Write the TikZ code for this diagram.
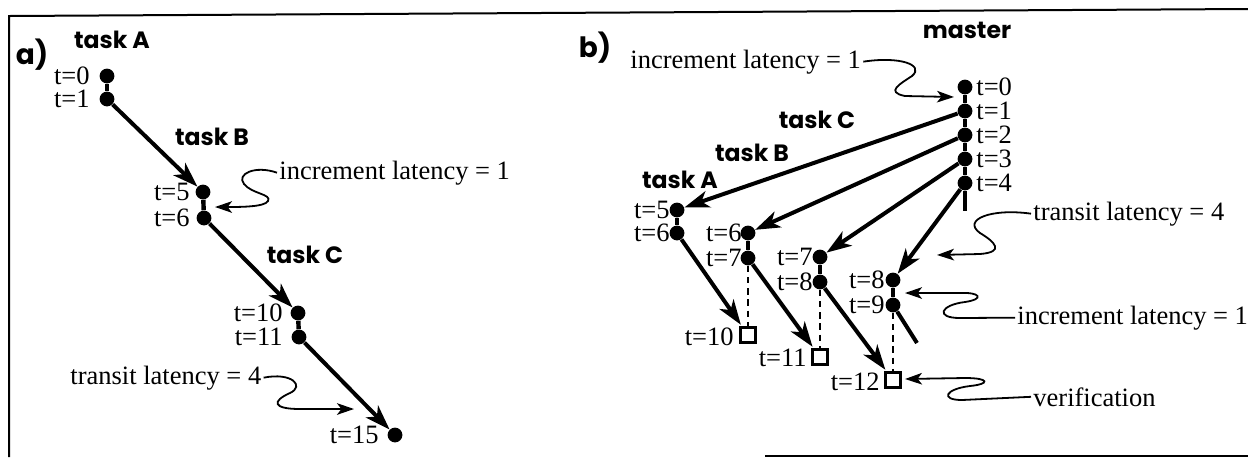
\documentclass[tikz,border=0pt]{standalone}
\usepackage{fontspec}
\setmainfont{Liberation Serif}
\newfontfamily\agfont{Poppins}
\usetikzlibrary{arrows.meta}
\tikzset{
  dot/.style={circle, fill=black, inner sep=0pt, minimum size=7.4pt},
  vsq/.style={rectangle, draw=black, line width=1.4pt, fill=white, inner sep=0pt, minimum size=7.2pt},
  tl/.style={inner sep=0pt, font=\fontsize{13.25pt}{15pt}\selectfont},
  hd/.style={inner sep=0pt, font=\agfont\bfseries\fontsize{11.8pt}{13pt}\selectfont},
  pl/.style={inner sep=0pt, font=\agfont\bfseries\fontsize{14pt}{16pt}\selectfont},
  msg/.style={line width=2pt, -{Stealth[length=12.5pt,width=8.5pt,inset=3.5pt]}},
  seg/.style={line width=2.2pt},
  wave/.style={line width=0.9pt, -{Stealth[length=8.5pt,width=5.8pt,inset=2.2pt]}},
  ver/.style={line width=1.2pt, dash pattern=on 3.2pt off 2.4pt},
  frame/.style={line width=1pt},
}
\begin{document}
\begin{tikzpicture}[x=0.5pt, y=-0.5pt]
\useasboundingbox (0,0) rectangle (1248,457);
% frame
\draw[frame] (9,457) -- (9,16) -- (1248,9);
\draw[frame] (765,456) -- (1248,456);

% ---------------- panel a ----------------
\node[pl] (pa) at (32,55) {a)};
\node[hd] (ha) at (112,40) {task A};
\node[hd] (hb) at (212,137) {task B};
\node[hd] (hc) at (305,255) {task C};

\node[dot] (a0) at (107,76) {};
\node[dot] (a1) at (107,99) {};
\node[dot] (a5) at (203,192) {};
\node[dot] (a6) at (204,218) {};
\node[dot] (a10) at (298,313) {};
\node[dot] (a11) at (299,337) {};
\node[dot] (a15) at (395,435) {};

\draw[seg] (a0) -- (a1);
\draw[seg] (a5) -- (a6);
\draw[seg] (a10) -- (a11);
\draw[msg] (a1) -- (a5);
\draw[msg] (a6) -- (a10);
\draw[msg] (a11) -- (a15);

\node[tl, anchor=east] (la0) at (90,76) {t=0};
\node[tl, anchor=east] (la1) at (90,99) {t=1};
\node[tl, anchor=east] (la5) at (190,192) {t=5};
\node[tl, anchor=east] (la6) at (190,218) {t=6};
\node[tl, anchor=east] (la10) at (283,313) {t=10};
\node[tl, anchor=east] (la11) at (283,337) {t=11};
\node[tl, anchor=east] (la15) at (379,435) {t=15};

\node[tl, anchor=base west] (wa1) at (279,179) {increment latency = 1};
\coordinate (wa1t) at (215,207);
\draw[wave] ([xshift=-1pt]wa1.west) .. controls (255,165) and (236,174) .. (244,184)
  .. controls (252,194) and (272,194) .. (268,201)
  .. controls (265,207) and (240,207) .. (wa1t);

\node[tl, anchor=base west] (wa2) at (70,384) {transit latency = 4};
\coordinate (wa2t) at (354,409);
\draw[wave] ([xshift=1pt]wa2.east) .. controls (292,372) and (305,386) .. (290,393)
  .. controls (272,401) and (272,409) .. (300,409) -- (wa2t);

% ---------------- panel b ----------------
\node[pl] (pb) at (595,48) {b)};
\node[hd] (hm) at (967,30) {master};
\node[hd] (hbc) at (817,120) {task C};
\node[hd] (hbb) at (752,153) {task B};
\node[hd] (hba) at (680,180) {task A};

\node[dot] (m0) at (965,87) {};
\node[dot] (m1) at (965,111) {};
\node[dot] (m2) at (965,135) {};
\node[dot] (m3) at (965,159) {};
\node[dot] (m4) at (965,183) {};
\coordinate (mend) at (965,211);
\draw[seg] (m0) -- (m1);
\draw[seg] (m1) -- (m2);
\draw[seg] (m2) -- (m3);
\draw[seg] (m3) -- (m4);
\draw[seg] (m4) -- (mend);

\node[tl, anchor=west] (lm0) at (976,87) {t=0};
\node[tl, anchor=west] (lm1) at (976,111) {t=1};
\node[tl, anchor=west] (lm2) at (976,135) {t=2};
\node[tl, anchor=west] (lm3) at (976,159) {t=3};
\node[tl, anchor=west] (lm4) at (976,183) {t=4};

\node[dot] (ba5) at (677,210) {};
\node[dot] (ba6) at (677,233) {};
\node[dot] (bb6) at (748,233) {};
\node[dot] (bb7) at (748,258) {};
\node[dot] (bc7) at (820,257) {};
\node[dot] (bc8) at (820,282) {};
\node[dot] (bd8) at (893,280) {};
\node[dot] (bd9) at (893,305) {};
\node[vsq] (s10) at (748,335) {};
\node[vsq] (s11) at (820,357) {};
\node[vsq] (s12) at (893,380) {};
\coordinate (dend) at (917,343);

\draw[seg] (ba5) -- (ba6);
\draw[seg] (bb6) -- (bb7);
\draw[seg] (bc7) -- (bc8);
\draw[seg] (bd8) -- (bd9);

\draw[msg] (m1) -- (ba5);
\draw[msg] (m2) -- (bb6);
\draw[msg] (m3) -- (bc7);
\draw[msg] (m4) -- (bd8);
\draw[msg, shorten >=1pt] (ba6) -- (s10);
\draw[msg, shorten >=1pt] (bb7) -- (s11);
\draw[msg, shorten >=1pt] (bc8) -- (s12);
\draw[seg, line width=2pt] (bd9) -- (dend);

\draw[ver] (bb7) -- (s10);
\draw[ver] (bc8) -- (s11);
\draw[ver] (bd9) -- (s12);

\node[tl, anchor=east] (lba5) at (670,210) {t=5};
\node[tl, anchor=east] (lba6) at (670,233) {t=6};
\node[tl, anchor=east] (lbb6) at (742,233) {t=6};
\node[tl, anchor=east] (lbb7) at (742,258) {t=7};
\node[tl, anchor=east] (lbc7) at (813,257) {t=7};
\node[tl, anchor=east] (lbc8) at (813,282) {t=8};
\node[tl, anchor=east] (lbd8) at (885,280) {t=8};
\node[tl, anchor=east] (lbd9) at (885,305) {t=9};
\node[tl, anchor=east] (ls10) at (734,337) {t=10};
\node[tl, anchor=east] (ls11) at (807,358) {t=11};
\node[tl, anchor=east] (ls12) at (880,382) {t=12};

\node[tl, anchor=base west] (wb1) at (630,68) {increment latency = 1};
\coordinate (wb1t) at (954,97);
\draw[wave] ([xshift=1pt]wb1.east) .. controls (900,56) and (925,65) .. (912,76)
  .. controls (900,84) and (885,92) .. (905,96) -- (wb1t);

\node[tl, anchor=base west] (wb2) at (1033,220) {transit latency = 4};
\coordinate (wb2t) at (937,255);
\draw[wave] ([xshift=-1pt]wb2.west) .. controls (990,208) and (962,220) .. (980,233)
  .. controls (995,242) and (1005,252) .. (980,254) -- (wb2t);

\node[tl, anchor=base west] (wb3) at (1017,324) {increment latency = 1};
\coordinate (wb3t) at (905,293);
\draw[wave] ([xshift=-1pt]wb3.west) -- (960,318) .. controls (935,318) and (940,305) .. (965,302)
  .. controls (985,299) and (980,292) .. (960,293) -- (wb3t);

\node[tl, anchor=base west] (wb4) at (1033,406) {verification};
\coordinate (wb4t) at (905,379);
\draw[wave] ([xshift=-1pt]wb4.west) -- (962,400) .. controls (940,400) and (945,389) .. (970,386)
  .. controls (990,384) and (990,378) .. (965,378) -- (wb4t);
\end{tikzpicture}
\end{document}
